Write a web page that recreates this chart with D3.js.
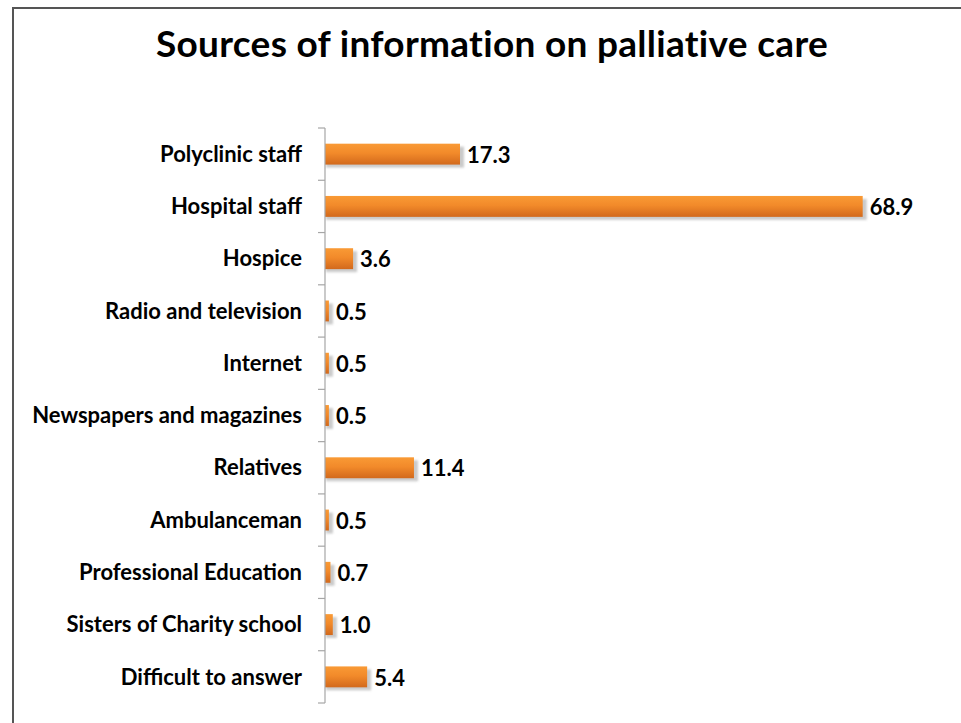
<!DOCTYPE html>
<html>
<head>
<meta charset="utf-8">
<script src="https://cdn.jsdelivr.net/npm/d3@7"></script>
<style>
  html, body { margin: 0; padding: 0; background: #fff; }
  svg { display: block; }
  text { font-family: Lato, "Open Sans", sans-serif; font-weight: bold; fill: #000; }
</style>
</head>
<body>
<svg id="chart" width="961" height="723"></svg>
<script>
// Sources named by respondents, percent of answers
const categories = [
  "Polyclinic staff",
  "Hospital staff",
  "Hospice",
  "Radio and television",
  "Internet",
  "Newspapers and magazines",
  "Relatives",
  "Ambulanceman",
  "Professional Education",
  "Sisters of Charity school",
  "Difficult to answer"
];
const values = [17.3, 68.9, 3.6, 0.5, 0.5, 0.5, 11.4, 0.5, 0.7, 1.0, 5.4];
const valueLabels = ["17.3", "68.9", "3.6", "0.5", "0.5", "0.5", "11.4", "0.5", "0.7", "1.0", "5.4"];
const chartTitle = "Sources of information on palliative care";

const svg = d3.select("#chart");

// outer frame (only the top and left edges fall inside the page)
svg.append("rect")
  .attr("x", 13).attr("y", 8)
  .attr("width", 1000).attr("height", 800)
  .attr("fill", "none")
  .attr("stroke", "#555")
  .attr("stroke-width", 2);

svg.append("text")
  .attr("x", 492).attr("y", 57)
  .attr("text-anchor", "middle")
  .style("font-size", "37px")
  .style("letter-spacing", "0.3px")
  .text(chartTitle);

const plotLeft = 325, plotTop = 128, plotBottom = 703;

const x = d3.scaleLinear().domain([0, 68.9]).range([plotLeft, 862.7]);
const y = d3.scaleBand().domain(categories).range([plotTop, plotBottom]).paddingInner(0.6).paddingOuter(0.3);
const yTicks = d3.scaleBand().domain(categories).range([plotTop, plotBottom]);

const defs = svg.append("defs");
const grad = defs.append("linearGradient")
  .attr("id", "barFill").attr("x1", 0).attr("y1", 0).attr("x2", 0).attr("y2", 1);
grad.append("stop").attr("offset", "0%").attr("stop-color", "#F99A35");
grad.append("stop").attr("offset", "45%").attr("stop-color", "#F28A2A");
grad.append("stop").attr("offset", "100%").attr("stop-color", "#D2691C");

const blur = defs.append("filter").attr("id", "shadowBlur")
  .attr("x", "-20%").attr("y", "-50%").attr("width", "140%").attr("height", "200%");
blur.append("feGaussianBlur").attr("stdDeviation", 1.2);

// bar shadows
svg.append("g").selectAll("rect")
  .data(values)
  .join("rect")
  .attr("x", plotLeft + 1)
  .attr("y", (d, i) => y(categories[i]) + 3)
  .attr("width", d => x(d) - plotLeft + 3)
  .attr("height", y.bandwidth())
  .attr("fill", "#bdbdbd")
  .attr("opacity", 0.8)
  .attr("filter", "url(#shadowBlur)");

// bars
svg.append("g").selectAll("rect")
  .data(values)
  .join("rect")
  .attr("x", plotLeft)
  .attr("y", (d, i) => y(categories[i]))
  .attr("width", d => x(d) - plotLeft)
  .attr("height", y.bandwidth())
  .attr("fill", "url(#barFill)");

// category axis with ticks between bands
const axisG = svg.append("g");
axisG.append("line")
  .attr("x1", plotLeft).attr("x2", plotLeft)
  .attr("y1", plotTop).attr("y2", plotBottom)
  .attr("stroke", "#a6a6a6").attr("stroke-width", 1.2);
const tickYs = categories.map(c => yTicks(c)).concat([plotBottom]);
axisG.selectAll("line.tick")
  .data(tickYs)
  .join("line")
  .attr("class", "tick")
  .attr("x1", plotLeft - 7).attr("x2", plotLeft)
  .attr("y1", d => d).attr("y2", d => d)
  .attr("stroke", "#a6a6a6").attr("stroke-width", 1.2);

axisG.selectAll("text.cat")
  .data(categories)
  .join("text")
  .attr("class", "cat")
  .attr("x", 302)
  .attr("y", d => yTicks(d) + yTicks.bandwidth() / 2)
  .attr("dy", "0.35em")
  .attr("text-anchor", "end")
  .style("font-size", "22px")
  .text(d => d);

// value labels
svg.append("g").selectAll("text")
  .data(values)
  .join("text")
  .attr("x", d => x(d) + 7)
  .attr("y", (d, i) => y(categories[i]) + y.bandwidth() / 2 + 1)
  .attr("dy", "0.35em")
  .style("font-size", "22px")
  .text((d, i) => valueLabels[i]);
</script>
</body>
</html>
